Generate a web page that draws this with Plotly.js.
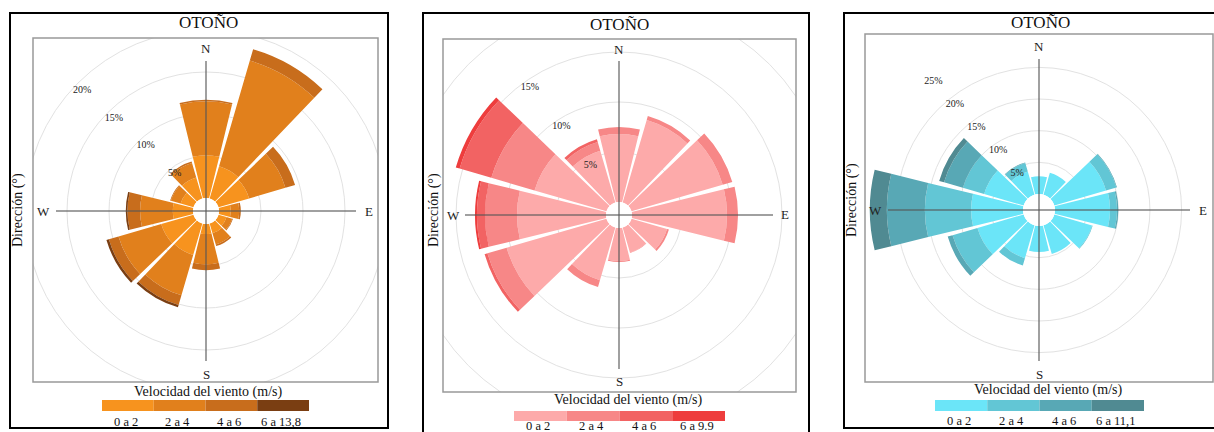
<!DOCTYPE html>
<html><head><meta charset="utf-8">
<script src="https://cdn.plot.ly/plotly-3.0.1.min.js"></script>
<style>html,body{margin:0;padding:0;background:#fff;overflow:hidden}#chart{width:1214px;height:432px}</style>
</head><body><div id="chart"></div>
<script>
// ---------- data ----------
const directions = [0, 30, 60, 90, 120, 150, 180, 210, 240, 270, 300, 330];
const compassLabels = ['N', 'E', 'S', 'W'];
const compassAngles = [0, 90, 180, 270];
const titleText = 'OTOÑO';
const xTitle = 'Velocidad del viento (m/s)';
const yTitle = 'Dirección (°)';

// Panel 1 (orange)
const bins1 = ['0 a 2', '2 a 4', '4 a 6', '6 a 13,8'];
const colors1 = ['#F7931E', '#E1801C', '#C86D1C', '#7A3E12'];
const p1_0a2 = [5.1, 4.0, 3.8, 1.4, 1.0, 1.2, 1.2, 3.9, 4.0, 2.4, 1.6, 2.6];
const p1_2a4 = [6.4, 13.1, 4.5, 1.0, 0.7, 1.4, 3.6, 5.0, 5.3, 3.9, 1.2, 1.8];
const p1_4a6 = [0.2, 1.4, 1.2, 0.2, 0.1, 0.2, 0.7, 1.2, 1.2, 1.5, 0.1, 0.2];
const p1_6up = [0, 0, 0, 0, 0, 0, 0, 0.3, 0.3, 0.2, 0, 0];
const ticks1 = [5, 10, 15, 20];
const tickText1 = ['5%', '10%', '15%', '20%'];

// Panel 2 (red)
const bins2 = ['0 a 2', '2 a 4', '4 a 6', '6 a 9.9'];
const colors2 = ['#FDAAAA', '#F78787', '#F26363', '#EE3D3D'];
const p2_0a2 = [6.8, 8.6, 9.5, 9.5, 3.7, 2.6, 3.3, 5.5, 10.4, 8.9, 7.5, 5.4];
const p2_2a4 = [0.7, 0.4, 1.0, 1.1, 0.2, 0.05, 0.1, 0.7, 2.0, 3.2, 4.5, 0.9];
const p2_4a6 = [0, 0, 0, 0, 0, 0, 0, 0, 0.3, 0.8, 3.3, 0.3];
const p2_6up = [0, 0, 0, 0, 0, 0, 0, 0, 0, 0.2, 0.4, 0];
const ticks2 = [5, 10, 15, 20];
const tickText2 = ['5%', '10%', '15%', ''];

// Panel 3 (cyan)
const bins3 = ['0 a 2', '2 a 4', '4 a 6', '6 a 11,1'];
const colors3 = ['#6BE5F8', '#62C6D5', '#58A8B5', '#508A92'];
const p3_0a2 = [2.8, 3.6, 8.5, 8.7, 6.2, 4.7, 4.1, 5.4, 7.6, 8.2, 6.5, 3.8];
const p3_2a4 = [0, 0, 1.7, 1.1, 0.1, 0, 0, 1.2, 4.1, 7.3, 3.5, 1.4];
const p3_4a6 = [0, 0, 0.1, 0.2, 0, 0, 0, 0, 0.8, 6.0, 3.1, 0.1];
const p3_6up = [0, 0, 0, 0, 0, 0, 0, 0, 0, 2.7, 0.8, 0];
const ticks3 = [5, 10, 15, 20, 25];
const tickText3 = ['5%', '10%', '15%', '20%', '25%'];

// ---------- layout geometry (pixels) ----------
const W = 1214, H = 432;
const fx = x => x / W, fy = y => 1 - y / H;
const FONT = 'Liberation Serif, Times New Roman, serif';

const panels = [
  {id: 'polar', series: [p1_0a2, p1_2a4, p1_4a6, p1_6up], bins: bins1, colors: colors1, ticks: ticks1, tickText: tickText1,
   cx: 206, cy: 211, R: 185, zero: 13, pxPer: 8.4, cross: 150, labR: 163, axisAngle: 139,
   box: [33, 38, 378, 382], frame: [10, 13, 388, 428],
   title: [208, 23], xlab: [208, 392], ylab: [18, 210], leg: [102, 400, 309, 411], legY: 422},
  {id: 'polar2', series: [p2_0a2, p2_2a4, p2_4a6, p2_6up], bins: bins2, colors: colors2, ticks: ticks2, tickText: tickText2,
   cx: 619, cy: 215, R: 215, zero: 13, pxPer: 10.0, cross: 154, labR: 166, axisAngle: 129,
   box: [443, 39, 796, 392], frame: [423, 13, 809, 445],
   title: [619, 25], xlab: [628, 400], ylab: [434, 210], leg: [514, 411, 725, 421], legY: 426},
  {id: 'polar3', series: [p3_0a2, p3_2a4, p3_4a6, p3_6up], bins: bins3, colors: colors3, ticks: ticks3, tickText: tickText3,
   cx: 1039, cy: 210, R: 175, zero: 16, pxPer: 6.33, cross: 151, labR: 164, axisAngle: 133,
   box: [865, 34, 1213, 382], frame: [844, 13, 1225, 428],
   title: [1040, 23], xlab: [1048, 390], ylab: [852, 200], leg: [935, 400, 1144, 411], legY: 421}
];

const data = [];
const layout = {
  width: W, height: H, margin: {l: 0, r: 0, t: 0, b: 0},
  paper_bgcolor: '#fff', showlegend: false, hovermode: false,
  font: {family: FONT, color: '#000'},
  shapes: [], annotations: []
};

panels.forEach(p => {
  p.series.forEach((vals, i) => {
    data.push({type: 'barpolar', subplot: p.id, r: vals, theta: directions, width: 27.5,
      name: p.bins[i], marker: {color: p.colors[i], line: {width: 0}}});
  });
  const rmax = (p.R - p.zero) / p.pxPer;
  layout[p.id] = {
    domain: {x: [fx(p.cx - p.R), fx(p.cx + p.R)], y: [fy(p.cy + p.R), fy(p.cy - p.R)]},
    hole: p.zero / p.R, bgcolor: 'rgba(0,0,0,0)', barmode: 'stack',
    angularaxis: {rotation: 90, direction: 'clockwise', showgrid: false, showline: false,
      showticklabels: false, ticks: ''},
    radialaxis: {range: [0, rmax], tickmode: 'array', tickvals: p.ticks, ticktext: p.tickText,
      showline: false, ticks: '', angle: p.axisAngle, tickangle: p.axisAngle,
      gridcolor: '#e2e2e2', gridwidth: 1,
      tickfont: {family: FONT, size: 10, color: '#222'}}
  };
});

// white covers to clip polar grid outside the plot boxes
panels.forEach(p => {
  const [x0, y0, x1, y1] = p.box;
  const d = [p.cx - p.R - 2, p.cy - p.R - 2, p.cx + p.R + 2, p.cy + p.R + 2];
  [[d[0], d[1], x0, d[3]], [x1, d[1], d[2], d[3]], [d[0], d[1], d[2], y0], [d[0], y1, d[2], d[3]]].forEach(c => {
    layout.shapes.push({type: 'rect', layer: 'above', xref: 'paper', yref: 'paper',
      x0: fx(c[0]), x1: fx(c[2]), y0: fy(c[3]), y1: fy(c[1]), fillcolor: '#fff', line: {width: 0}});
  });
});

panels.forEach(p => {
  const [x0, y0, x1, y1] = p.box;
  layout.shapes.push({type: 'rect', layer: 'above', xref: 'paper', yref: 'paper',
    x0: fx(x0), x1: fx(x1), y0: fy(y1), y1: fy(y0), line: {color: '#999', width: 1.5}});
  const f = p.frame;
  layout.shapes.push({type: 'rect', layer: 'above', xref: 'paper', yref: 'paper',
    x0: fx(f[0]), x1: fx(f[2]), y0: fy(f[3]), y1: fy(f[1]), line: {color: '#000', width: 2}});
  // compass cross
  layout.shapes.push({type: 'line', layer: 'above', xref: 'paper', yref: 'paper',
    x0: fx(p.cx), x1: fx(p.cx), y0: fy(p.cy - p.cross), y1: fy(p.cy + p.cross),
    line: {color: 'rgba(85,85,85,0.75)', width: 1.5}});
  layout.shapes.push({type: 'line', layer: 'above', xref: 'paper', yref: 'paper',
    x0: fx(p.cx - p.cross), x1: fx(p.cx + p.cross), y0: fy(p.cy), y1: fy(p.cy),
    line: {color: 'rgba(85,85,85,0.75)', width: 1.5}});
  // legend swatches
  const [lx0, ly0, lx1, ly1] = p.leg;
  const sw = (lx1 - lx0) / p.colors.length;
  p.colors.forEach((c, i) => {
    layout.shapes.push({type: 'rect', layer: 'above', xref: 'paper', yref: 'paper',
      x0: fx(lx0 + i * sw), x1: fx(lx0 + (i + 1) * sw), y0: fy(ly1), y1: fy(ly0),
      fillcolor: c, line: {width: 0}});
    layout.annotations.push({xref: 'paper', yref: 'paper', x: fx(lx0 + (i + 0.5) * sw - 2), y: fy(p.legY),
      text: p.bins[i], showarrow: false, xanchor: 'center', yanchor: 'middle',
      font: {family: FONT, size: 12.5, color: '#111'}});
  });
  // texts
  layout.annotations.push({xref: 'paper', yref: 'paper', x: fx(p.title[0]), y: fy(p.title[1]), text: titleText,
    showarrow: false, xanchor: 'center', yanchor: 'middle', font: {family: FONT, size: 17, color: '#111'}});
  layout.annotations.push({xref: 'paper', yref: 'paper', x: fx(p.xlab[0]), y: fy(p.xlab[1]), text: xTitle,
    showarrow: false, xanchor: 'center', yanchor: 'middle', font: {family: FONT, size: 14, color: '#111'}});
  layout.annotations.push({xref: 'paper', yref: 'paper', x: fx(p.ylab[0]), y: fy(p.ylab[1]), text: yTitle,
    textangle: -90, showarrow: false, xanchor: 'center', yanchor: 'middle', font: {family: FONT, size: 14, color: '#111'}});
  compassLabels.forEach((t, i) => {
    const a = compassAngles[i] * Math.PI / 180;
    layout.annotations.push({xref: 'paper', yref: 'paper',
      x: fx(p.cx + p.labR * Math.sin(a)), y: fy(p.cy - p.labR * Math.cos(a)), text: t,
      showarrow: false, xanchor: 'center', yanchor: 'middle', font: {family: FONT, size: 13, color: '#222'}});
  });
});

Plotly.newPlot('chart', data, layout, {displayModeBar: false, staticPlot: true});
</script></body></html>
